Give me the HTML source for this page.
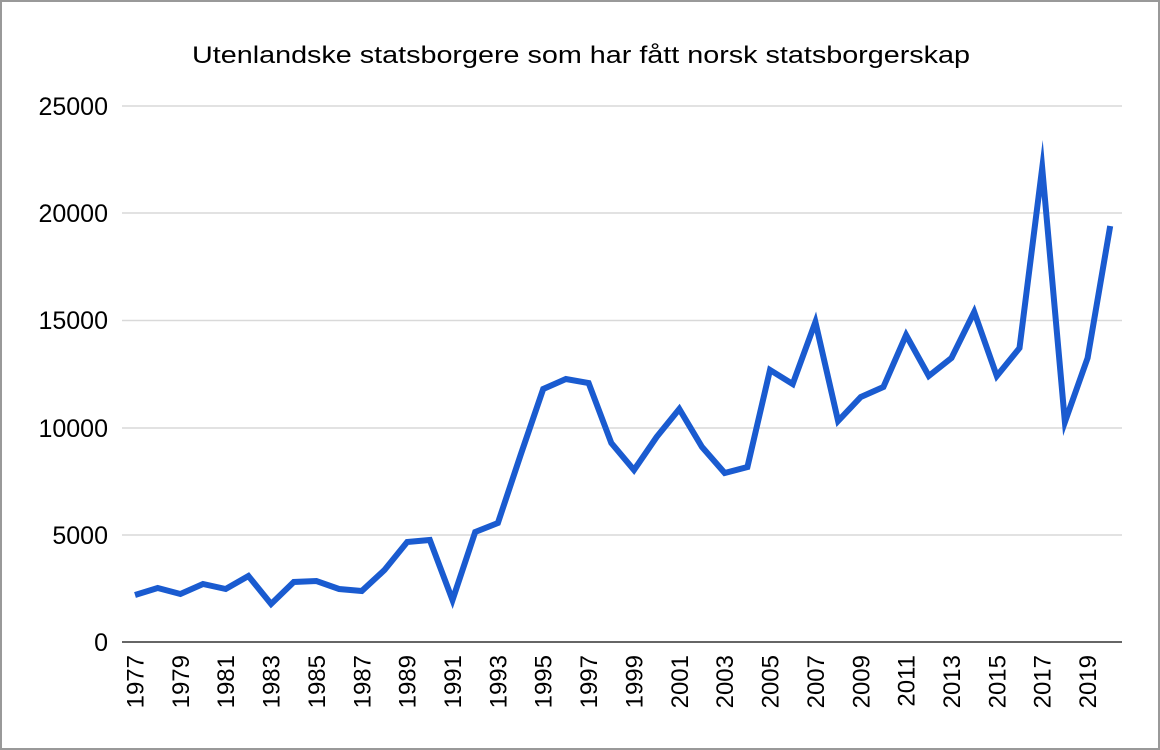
<!DOCTYPE html>
<html><head><meta charset="utf-8"><style>
html,body{margin:0;padding:0;background:#fff}
svg{display:block}
text{font-family:"Liberation Sans",Arial,sans-serif;fill:#000}
</style></head><body>
<svg width="1160" height="750" viewBox="0 0 1160 750" xmlns="http://www.w3.org/2000/svg">
<rect x="1" y="1" width="1158" height="748" fill="#fff" stroke="#999" stroke-width="2"/>
<text x="192" y="63" font-size="24" textLength="778" lengthAdjust="spacingAndGlyphs">Utenlandske statsborgere som har fått norsk statsborgerskap</text>
<g stroke="#d9d9d9" stroke-width="1.5">
<line x1="122" x2="1122" y1="106" y2="106"/>
<line x1="122" x2="1122" y1="213" y2="213"/>
<line x1="122" x2="1122" y1="320.5" y2="320.5"/>
<line x1="122" x2="1122" y1="428" y2="428"/>
<line x1="122" x2="1122" y1="535" y2="535"/>
</g>
<line x1="122" x2="1122" y1="642" y2="642" stroke="#333" stroke-width="1.5"/>
<g font-size="25" text-anchor="end">
<text x="108" y="115">25000</text>
<text x="108" y="222">20000</text>
<text x="108" y="329">15000</text>
<text x="108" y="437">10000</text>
<text x="108" y="544">5000</text>
<text x="108" y="651">0</text>
</g>
<g font-size="24" text-anchor="end">
<text transform="translate(143.5,655) rotate(-90)">1977</text>
<text transform="translate(188.9,655) rotate(-90)">1979</text>
<text transform="translate(234.2,655) rotate(-90)">1981</text>
<text transform="translate(279.6,655) rotate(-90)">1983</text>
<text transform="translate(324.9,655) rotate(-90)">1985</text>
<text transform="translate(370.3,655) rotate(-90)">1987</text>
<text transform="translate(415.7,655) rotate(-90)">1989</text>
<text transform="translate(461,655) rotate(-90)">1991</text>
<text transform="translate(506.4,655) rotate(-90)">1993</text>
<text transform="translate(551.7,655) rotate(-90)">1995</text>
<text transform="translate(597.1,655) rotate(-90)">1997</text>
<text transform="translate(642.5,655) rotate(-90)">1999</text>
<text transform="translate(687.8,655) rotate(-90)">2001</text>
<text transform="translate(733.2,655) rotate(-90)">2003</text>
<text transform="translate(778.5,655) rotate(-90)">2005</text>
<text transform="translate(823.9,655) rotate(-90)">2007</text>
<text transform="translate(869.3,655) rotate(-90)">2009</text>
<text transform="translate(914.6,655) rotate(-90)">2011</text>
<text transform="translate(960,655) rotate(-90)">2013</text>
<text transform="translate(1005.3,655) rotate(-90)">2015</text>
<text transform="translate(1050.7,655) rotate(-90)">2017</text>
<text transform="translate(1096.1,655) rotate(-90)">2019</text>
</g>
<polyline fill="none" stroke="#1a5bd0" stroke-width="6" stroke-linejoin="miter" stroke-miterlimit="10" points="135,595 157.7,588 180.4,594 203,584 225.7,589 248.4,576 271.1,604 293.8,582 316.4,581 339.1,589 361.8,591 384.5,570 407.2,542 429.8,540 452.5,600 475.2,532 497.9,523 520.6,455 543.2,389 565.9,379 588.6,383 611.3,443 634,470 656.6,437 679.3,409 702,447 724.7,473 747.4,467 770,370 792.7,384 815.4,322 838.1,421 860.8,397 883.4,387 906.1,335 928.8,376 951.5,358 974.2,312 996.8,376 1019.5,348 1042.2,168 1064.9,422 1087.6,358 1110.2,226"/>
</svg>
</body></html>
